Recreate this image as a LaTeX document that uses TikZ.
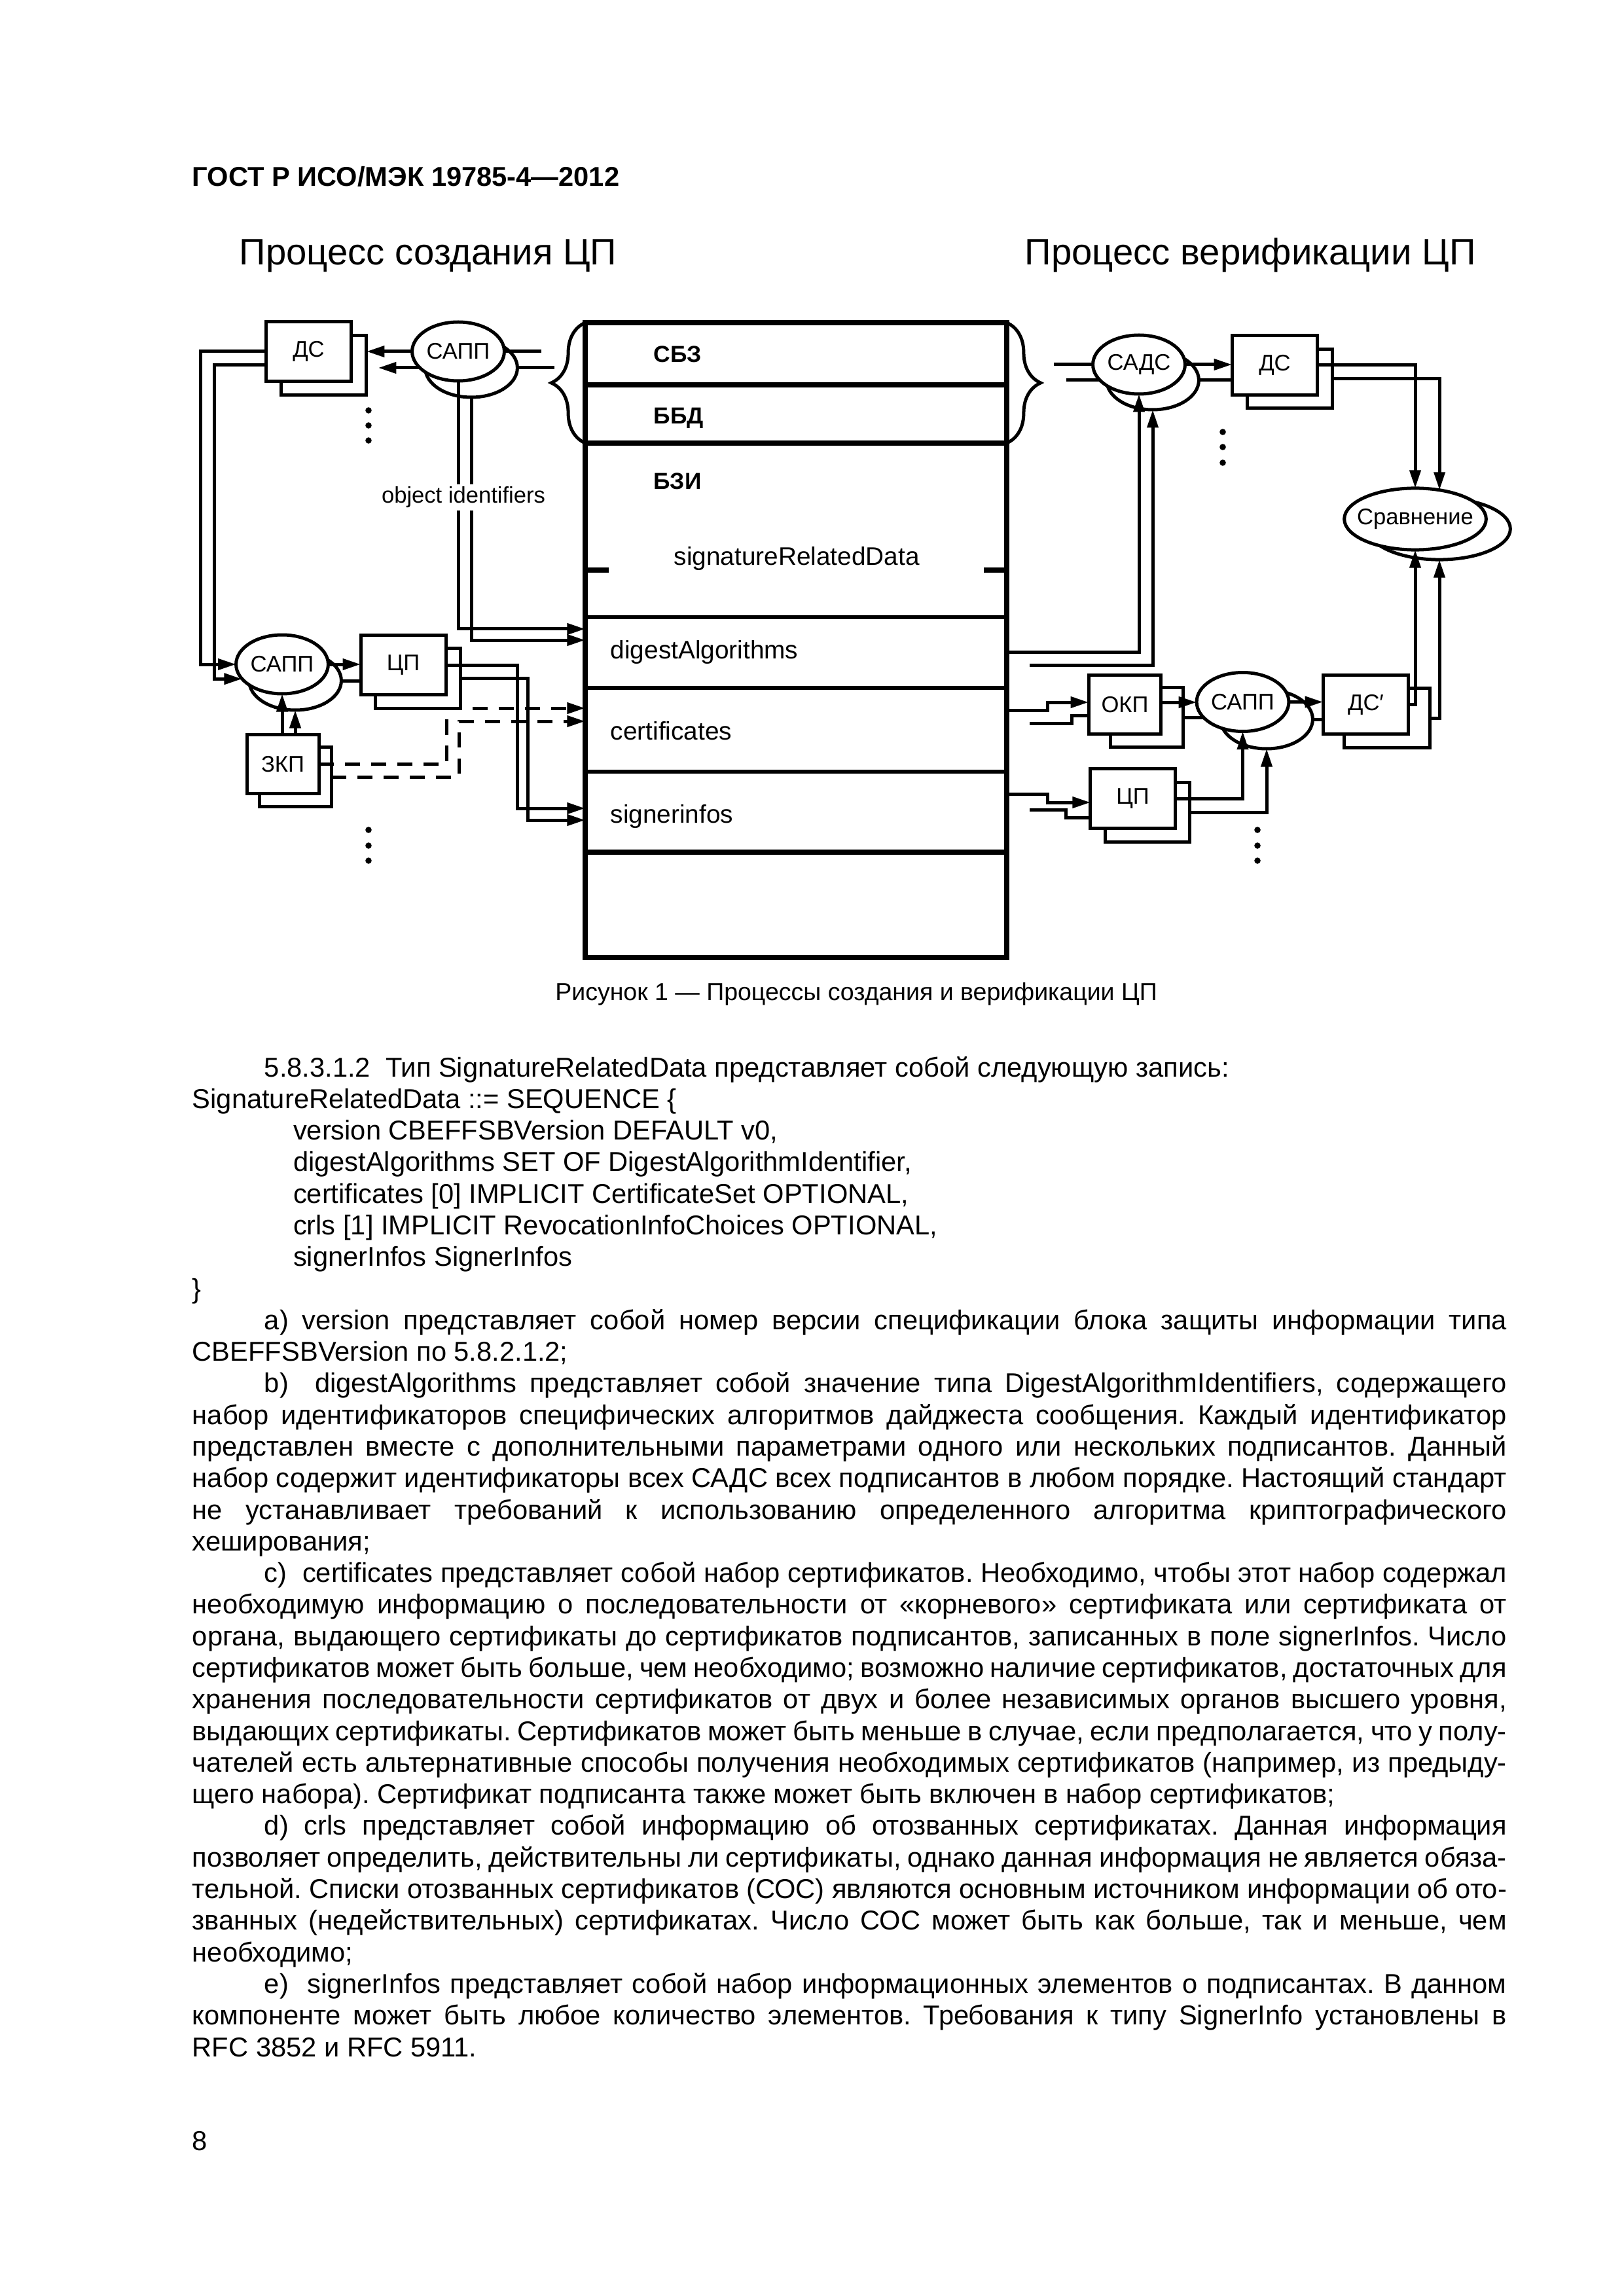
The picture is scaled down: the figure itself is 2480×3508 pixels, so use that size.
\documentclass[tikz,border=0pt]{standalone}
\usepackage{fontspec}
\setmainfont{Liberation Sans}
\usetikzlibrary{arrows.meta,shapes.geometric,backgrounds,decorations.pathreplacing}
\newlength{\bodyw}
\setlength{\bodyw}{481.9pt}
\newcommand{\jl}[1]{\makebox[\bodyw][s]{\spaceskip=0pt\xspaceskip=0pt #1}\\}
\newcommand{\nowd}[1]{\makebox[0pt]{#1}}
\frenchspacing

\begin{document}
\begin{tikzpicture}[x=0.24pt, y=-0.24pt,
  ln/.style={line width=1.2pt},
  arr/.style={line width=1.2pt, -{Triangle[length=6.6pt,width=4pt]}},
  dsh/.style={dash pattern=on 5.6pt off 4pt},
  blk/.style={draw, line width=1.2pt, fill=white, inner sep=0pt, outer sep=0pt, minimum height=21.8pt, font=\fontsize{8.3}{10}\selectfont},
  bblk/.style={blk, fill=none},
  ell/.style={ellipse, draw, line width=1.2pt, fill=white, inner sep=0pt, outer sep=0pt, minimum width=33.8pt, minimum height=21.6pt, font=\fontsize{8.3}{10}\selectfont},
  bell/.style={ell, fill=none},
  row/.style={draw, line width=1.3pt, inner sep=0pt, outer sep=0pt, minimum width=154.6pt},
  lbl/.style={anchor=west, inner sep=0pt, font=\fontsize{9.3}{11}\selectfont},
  blbl/.style={lbl, font=\bfseries\fontsize{8.5}{10}\selectfont},
  thk/.style={line width=2.1pt},
  txt/.style={anchor=base west, inner sep=0pt, font=\fontsize{10}{11.59}\selectfont}
]
\useasboundingbox (0,0) rectangle (2480,3508);

% page head and titles
\node[txt, font=\bfseries\fontsize{10}{12}\selectfont] (hdr) at (293,285) {ГОСТ Р ИСО/МЭК 19785-4—2012};
\node[txt, font=\fontsize{13.5}{16}\selectfont] (tleft) at (365,405) {Процесс создания ЦП};
\node[txt, font=\fontsize{13.5}{16}\selectfont] (tright) at (1565,405) {Процесс верификации ЦП};

% central record
\node[row, minimum height=22.8pt] (sbz) at (1216,540.5) {};
\node[row, minimum height=21.36pt] (bbd) at (1216,632.5) {};
\node[row, minimum height=63.84pt] (bzi) at (1216,810) {};
\node[row, minimum height=25.92pt] (dig) at (1216,997) {};
\node[row, minimum height=30.72pt] (cert) at (1216,1115) {};
\node[row, minimum height=29.52pt] (sign) at (1216,1240.5) {};
\node[row, minimum height=38.64pt] (rest) at (1216,1382.5) {};
\draw[thk] (sbz.north west) rectangle (rest.south east);
\draw[thk] (bbd.north west) -- (bbd.north east);
\draw[thk] (bzi.north west) -- (bzi.north east);
\draw[thk] (rest.north west) -- (rest.north east);
\draw[thk] ([yshift=17.3pt]bzi.south west) -- ++(36,0);
\draw[thk] ([yshift=17.3pt]bzi.south east) -- ++(-35,0);
\draw[ln, decorate, decoration={brace, amplitude=12.4pt}] (bbd.south west) -- (sbz.north west);
\draw[ln, decorate, decoration={brace, amplitude=12.4pt}] (sbz.north east) -- (bbd.south east);

\node[blbl] (lsbz) at (998,541) {СБЗ};
\node[blbl] (lbbd) at (998,639) {ББД};
\node[blbl] (lbzi) at (998,735) {БЗИ};
\node[lbl] (lsrd) at (1029,853) {signatureRelatedData};
\node[lbl] (ldig) at (932,996) {digestAlgorithms};
\node[lbl] (lcert) at (932,1117) {certificates};
\node[lbl] (lsign) at (932,1247) {signerinfos};

% creation side
\node[bblk, minimum width=31.4pt] (dsTb) at (494.5,558) {};
\node[blk, minimum width=31.4pt] (dsT) at (471.5,537) {ДС};
\node[bell] (sappTb) at (720,562) {};
\node[ell] (sappT) at (700,537) {\nowd{САПП}};
\node[bell] (sappLb) at (451,1040) {};
\node[ell] (sappL) at (431,1015) {\nowd{САПП}};
\node[bblk, minimum width=31.2pt, minimum height=22pt] (cpLb) at (638,1036.5) {};
\node[blk, minimum width=31.2pt, minimum height=22pt] (cpL) at (616,1016) {ЦП};
\node[bblk, minimum width=26.4pt] (zkpb) at (451,1187) {};
\node[blk, minimum width=26.4pt] (zkp) at (432,1167.5) {ЗКП};
\node[fill=white, inner sep=1pt, font=\fontsize{8.3}{10}\selectfont] (oid) at (708,760) {object identifiers};

% verification side
\node[bell] (sadsb) at (1761,581) {};
\node[ell] (sads) at (1740,557) {\nowd{САДС}};
\node[bblk, minimum width=31.4pt] (dsRb) at (1970.5,578.5) {};
\node[blk, minimum width=31.4pt] (dsR) at (1947.5,558) {ДС};
\node[bell, minimum width=52pt, minimum height=22.6pt] (cmpb) at (2199,808) {};
\node[ell, minimum width=52pt, minimum height=22.6pt] (cmp) at (2162,793) {\nowd{Сравнение}};
\node[bblk, minimum width=26.6pt] (okpb) at (1752,1096) {};
\node[blk, minimum width=26.6pt] (okp) at (1718.5,1076.5) {ОКП};
\node[bell] (sappRb) at (1935,1099) {};
\node[ell] (sappR) at (1898.5,1072.5) {\nowd{САПП}};
\node[bblk, minimum width=31.4pt] (dsPb) at (2119,1097) {};
\node[blk, minimum width=31.4pt] (dsP) at (2086.5,1076.5) {ДС′};
\node[bblk, minimum width=31pt] (cpRb) at (1753,1241) {};
\node[blk, minimum width=31pt] (cpR) at (1730.5,1220) {ЦП};

\coordinate (d2) at (1573,1016);
\coordinate (c2) at (1573,1105);
\coordinate (s2) at (1573,1237);

\begin{pgfonlayer}{background}
% creation
\draw[arr] (sappT.west) -- (dsTb.east |- sappT.west);
\draw[arr, shorten >=4.3pt] (sappTb.west) -- (dsTb.east |- sappTb.west);
\draw[ln] (sappT.east) -- ++(57,0);
\draw[ln] (sappTb.east) -- ++(57,0);
\draw[arr] (dsT.west) -- ++(-100,0) |- (sappL.west);
\draw[arr] (dsT.west |- dsTb.east) -- ++(-79,0) |- (sappL.200);
\draw[arr] (sappT.south) |- (dig.west |- 0,961);
\draw[arr] (sappTb.south) |- (dig.west |- 0,978);
\draw[arr] (sappL.east) -- (cpL.west |- sappL.east);
\draw[ln] (sappLb.east) -- (cpL.west |- sappLb.east);
\draw[arr] (zkp.north -| sappL.south) -- (sappL.south);
\draw[arr] (zkp.north -| sappLb.south) -- (sappLb.south);
\draw[arr] (cpL.east) -- ++(109,0) |- (sign.west |- 0,1235);
\draw[arr] (cpLb.east) -- ++(103,0) |- (sign.west |- 0,1253);
\draw[arr, dsh] (zkp.east) -- ++(195,0) |- (cert.west |- 0,1082);
\draw[arr, dsh] (zkpb.east) -- ++(195,0) |- (cert.west |- 0,1102);
% verification
\draw[arr] (dig.east |- 0,996) -| (sads.south);
\draw[arr] (d2) -| (sadsb.south);
\draw[ln] (sads.west) -- ++(-60,0);
\draw[ln] (sadsb.west) -- ++(-62,0);
\draw[arr] (sads.east) -- (dsR.west |- sads.east);
\draw[ln] (sadsb.east) -- (dsR.west |- sadsb.east);
\draw[arr] (dsR.east) -| (cmp.north);
\draw[arr] (dsRb.east) -| (cmp.50);
\draw[arr] (dsP.east) -| (cmp.south);
\draw[arr] (dsPb.east) -| (cmpb.south);
\draw[arr] (cert.east |- 0,1085) -- ++(62,0) |- (okp.west |- 0,1073);
\draw[ln] (c2) -- ++(64,0) |- (okp.west |- 0,1093);
\draw[arr] (okp.east |- 0,1073) -- (sappR.west |- 0,1073);
\draw[ln] (okpb.east) -- (sappR.center |- okpb.east);
\draw[arr] (sappR.east) -- (dsP.west |- sappR.east);
\draw[ln] (sappRb.east) -- (dsP.west |- sappRb.east);
\draw[arr] (sign.east |- 0,1213) -- ++(62,0) |- (cpR.west |- 0,1226);
\draw[ln] (s2) -- ++(55,0) |- (cpR.west |- 0,1249);
\draw[arr] (cpR.east) -| (sappR.south);
\draw[arr] (cpRb.east) -| (sappRb.south);
\end{pgfonlayer}

% dots
\foreach \y in {627,650,673} \fill (563,\y) circle (1.15pt);
\foreach \y in {1268,1292,1315} \fill (563,\y) circle (1.15pt);
\foreach \y in {660,683,707} \fill (1868,\y) circle (1.15pt);
\foreach \y in {1268,1292,1315} \fill (1921,\y) circle (1.15pt);

\node[anchor=base, inner sep=0pt, font=\fontsize{9}{11}\selectfont] (cap) at (1308,1528) {Рисунок 1 — Процессы создания и верификации ЦП};

% text of the page
\node[txt, text width=\bodyw, align=left] (body) at (293,1645) {\spaceskip=0pt\xspaceskip=0pt
\hspace*{26.4pt}5.8.3.1.2~~Тип SignatureRelatedData представляет собой следующую запись:\\
SignatureRelatedData ::= SEQUENCE \{\\
\hspace*{37pt}version CBEFFSBVersion DEFAULT v0,\\
\hspace*{37pt}digestAlgorithms SET OF DigestAlgorithmIdentifier,\\
\hspace*{37pt}certificates [0] IMPLICIT CertificateSet OPTIONAL,\\
\hspace*{37pt}crls [1] IMPLICIT RevocationInfoChoices OPTIONAL,\\
\hspace*{37pt}signerInfos SignerInfos\\
\}\\
\jl{\hspace*{26.4pt}a) version представляет собой номер версии спецификации блока защиты информации типа}
CBEFFSBVersion по 5.8.2.1.2;\\
\jl{\hspace*{26.4pt}b)~ digestAlgorithms представляет собой значение типа DigestAlgorithmIdentifiers, содержащего}
\jl{набор идентификаторов специфических алгоритмов дайджеста сообщения. Каждый идентификатор}
\jl{представлен вместе с дополнительными параметрами одного или нескольких подписантов. Данный}
\jl{набор содержит идентификаторы всех САДС всех подписантов в любом порядке. Настоящий стандарт}
\jl{не устанавливает требований к использованию определенного алгоритма криптографического}
хеширования;\\
\jl{\hspace*{26.4pt}c)~ certificates представляет собой набор сертификатов. Необходимо, чтобы этот набор содержал}
\jl{необходимую информацию о последовательности от «корневого» сертификата или сертификата от}
\jl{органа, выдающего сертификаты до сертификатов подписантов, записанных в поле signerInfos. Число}
\jl{сертификатов может быть больше, чем необходимо; возможно наличие сертификатов, достаточных для}
\jl{хранения последовательности сертификатов от двух и более независимых органов высшего уровня,}
\jl{выдающих сертификаты. Сертификатов может быть меньше в случае, если предполагается, что у полу-}
\jl{чателей есть альтернативные способы получения необходимых сертификатов (например, из предыду-}
щего набора). Сертификат подписанта также может быть включен в набор сертификатов;\\
\jl{\hspace*{26.4pt}d) crls представляет собой информацию об отозванных сертификатах. Данная информация}
\jl{позволяет определить, действительны ли сертификаты, однако данная информация не является обяза-}
\jl{тельной. Списки отозванных сертификатов (СОС) являются основным источником информации об ото-}
\jl{званных (недействительных) сертификатах. Число СОС может быть как больше, так и меньше, чем}
необходимо;\\
\jl{\hspace*{26.4pt}e)~ signerInfos представляет собой набор информационных элементов о подписантах. В данном}
\jl{компоненте может быть любое количество элементов. Требования к типу SignerInfo установлены в}
RFC 3852 и RFC 5911.};
\node[txt] (pgnum) at (293,3285) {8};
\end{tikzpicture}
\end{document}
